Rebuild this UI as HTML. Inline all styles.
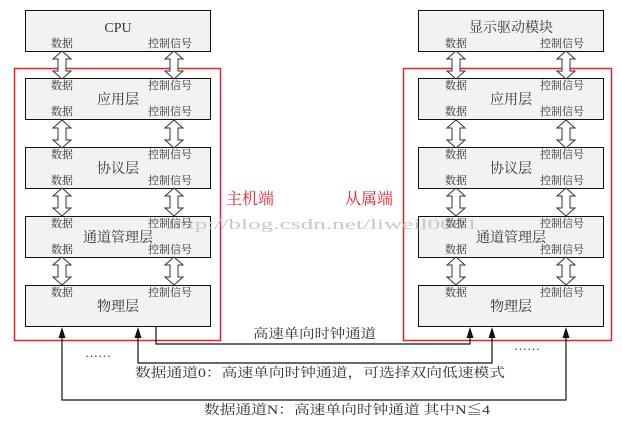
<!DOCTYPE html>
<html><head><meta charset="utf-8"><style>
html,body{margin:0;padding:0;background:#fff;width:622px;height:425px;overflow:hidden}
text{font-family:"Liberation Serif","Noto Serif CJK SC","Noto Sans CJK SC",serif;fill:#333}
.s{font-size:11px}.t{font-size:14px}
</style></head><body>
<svg width="622" height="425" viewBox="0 0 622 425" xmlns="http://www.w3.org/2000/svg">
<defs>
<polygon id="da" points="0,0 9,8 4,8 4,20 9,20 0,28 -9,20 -4,20 -4,8 -9,8" fill="#fff" stroke="#333" stroke-width="1"/>
<polygon id="ah" points="0,0 3.5,11 -3.5,11" fill="#111"/>
</defs>
<g fill="#f2f2f2" stroke="#111" stroke-width="1">
<rect x="25.5" y="10.5" width="185" height="41"/>
<rect x="25.5" y="78.5" width="185" height="41"/>
<rect x="25.5" y="147.5" width="185" height="41"/>
<rect x="25.5" y="216.5" width="185" height="41"/>
<rect x="25.5" y="285.5" width="185" height="41"/>
<rect x="418.5" y="10.5" width="185" height="41"/>
<rect x="418.5" y="78.5" width="185" height="41"/>
<rect x="418.5" y="147.5" width="185" height="41"/>
<rect x="418.5" y="216.5" width="185" height="41"/>
<rect x="418.5" y="285.5" width="185" height="41"/>
</g>
<g fill="none" stroke="#e8202a" stroke-width="1.5">
<rect x="14.5" y="68.5" width="206" height="272"/>
<rect x="403.5" y="68.5" width="208" height="272"/>
</g>
<g>
<use href="#da" x="62" y="51"/><use href="#da" x="174" y="51"/>
<use href="#da" x="62" y="120"/><use href="#da" x="174" y="120"/>
<use href="#da" x="62" y="188"/><use href="#da" x="174" y="188"/>
<use href="#da" x="62" y="257"/><use href="#da" x="174" y="257"/>
<use href="#da" x="456" y="51"/><use href="#da" x="566" y="51"/>
<use href="#da" x="456" y="120"/><use href="#da" x="566" y="120"/>
<use href="#da" x="456" y="188"/><use href="#da" x="566" y="188"/>
<use href="#da" x="456" y="257"/><use href="#da" x="566" y="257"/>
</g>
<text x="168" y="229" font-size="15" style="fill:#c8c8c8" textLength="310" lengthAdjust="spacingAndGlyphs" font-family="Liberation Mono">http://blog.csdn.net/liweil0001</text>
<g class="s" text-anchor="middle">
<text class="t" x="118" y="32">CPU</text>
<text x="62" y="47">数据</text><text x="170" y="47">控制信号</text>
<text x="62" y="89">数据</text><text x="170" y="89">控制信号</text>
<text class="t" x="118" y="104">应用层</text>
<text x="62" y="115">数据</text><text x="170" y="115">控制信号</text>
<text x="62" y="158">数据</text><text x="170" y="158">控制信号</text>
<text class="t" x="118" y="173">协议层</text>
<text x="62" y="184">数据</text><text x="170" y="184">控制信号</text>
<text x="62" y="227">数据</text><text x="170" y="227">控制信号</text>
<text class="t" x="118" y="242">通道管理层</text>
<text x="62" y="253">数据</text><text x="170" y="253">控制信号</text>
<text x="62" y="296">数据</text><text x="170" y="296">控制信号</text>
<text class="t" x="118" y="311">物理层</text>

<text class="t" x="511" y="32">显示驱动模块</text>
<text x="456" y="47">数据</text><text x="562" y="47">控制信号</text>
<text x="456" y="89">数据</text><text x="562" y="89">控制信号</text>
<text class="t" x="511" y="104">应用层</text>
<text x="456" y="115">数据</text><text x="562" y="115">控制信号</text>
<text x="456" y="158">数据</text><text x="562" y="158">控制信号</text>
<text class="t" x="511" y="173">协议层</text>
<text x="456" y="184">数据</text><text x="562" y="184">控制信号</text>
<text x="456" y="227">数据</text><text x="562" y="227">控制信号</text>
<text class="t" x="511" y="242">通道管理层</text>
<text x="456" y="253">数据</text><text x="562" y="253">控制信号</text>
<text x="456" y="296">数据</text><text x="562" y="296">控制信号</text>
<text class="t" x="511" y="311">物理层</text>
</g>
<text x="250" y="204" font-size="16" text-anchor="middle" style="fill:#e8202a">主机端</text>
<text x="369" y="204" font-size="16" text-anchor="middle" style="fill:#e8202a">从属端</text>
<g fill="none" stroke="#111" stroke-width="1.2">
<polyline points="156,326 156,344 470,344 470,334"/>
<polyline points="138,334 138,363 492,363 492,334"/>
<polyline points="62,334 62,400 566,400 566,334"/>
</g>
<use href="#ah" x="470" y="327"/><use href="#ah" x="492" y="327"/>
<use href="#ah" x="138" y="327"/><use href="#ah" x="62" y="327"/><use href="#ah" x="566" y="327"/>
<g font-size="13">
<text x="253" y="338" textLength="123" lengthAdjust="spacingAndGlyphs">高速单向时钟通道</text>
<text x="135" y="377" textLength="370" lengthAdjust="spacingAndGlyphs">数据通道0：高速单向时钟通道，可选择双向低速模式</text>
<text x="204" y="414" textLength="286" lengthAdjust="spacingAndGlyphs">数据通道N：高速单向时钟通道  其中N≦4</text>
<text x="85" y="357">……</text>
<text x="514" y="350">……</text>
</g>
</svg>
</body></html>
